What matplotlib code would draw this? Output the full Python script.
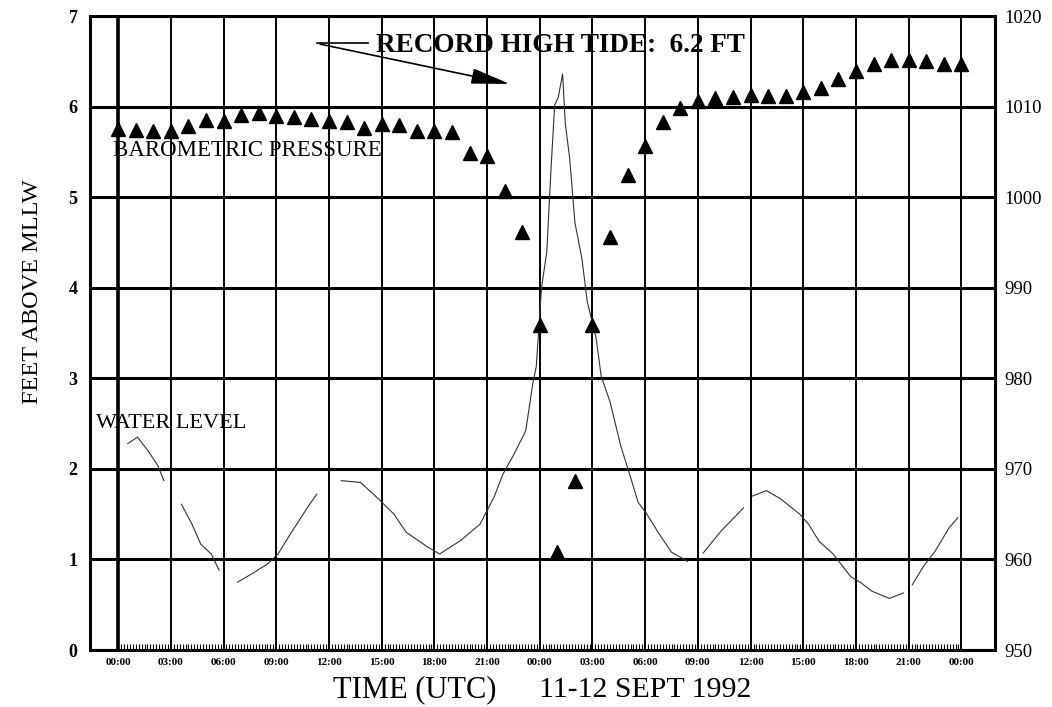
import matplotlib.pyplot as plt
import numpy as np

plt.rcParams['font.family'] = ['Liberation Serif', 'DejaVu Serif']

nan = np.nan

# hourly barometric pressure (mb), 00 UTC 11 Sept -> 00 UTC 13 Sept
pressure_hours = list(range(49))
pressure_mb = [1007.5, 1007.4, 1007.3, 1007.3, 1007.9, 1008.5, 1008.4, 1009.1, 1009.3, 1009.0,
               1008.9, 1008.6, 1008.4, 1008.3, 1007.6, 1008.1, 1008.0, 1007.3, 1007.3, 1007.2,
               1004.9, 1004.5, 1000.7, 996.2, 985.9, 960.8, 968.7, 985.9, 995.6, 1002.5,
               1005.7, 1008.3, 1009.8, 1010.6, 1010.9, 1011.1, 1011.3, 1011.2, 1011.2, 1011.6,
               1012.1, 1013.1, 1013.9, 1014.7, 1015.2, 1015.2, 1015.0, 1014.7, 1014.7]

# water level (ft above MLLW), nan = gap in the record
water_hours = [0.55, 1.1, 1.7, 2.25, 2.6, 3.0,
               3.6, 4.2, 4.7, 5.3, 5.75, 6.2,
               6.8, 7.6, 8.5, 9.1, 9.8, 10.8, 11.3, 12.0,
               12.7, 13.8, 14.7, 15.7, 16.4, 17.6, 18.3, 19.5, 20.6, 21.4, 21.9, 22.5,
               23.2, 23.6, 23.8, 24.1, 24.4, 24.65, 24.85, 25.05, 25.3, 25.45, 25.7,
               26.0, 26.4, 26.7, 27.2, 27.5, 28.0, 28.6, 29.1, 29.6, 30.1, 30.8,
               31.5, 32.4, 32.9,
               33.3, 34.3, 34.9, 35.6, 35.9,
               36.1, 36.9, 37.7, 38.8, 39.3, 39.9, 40.7, 41.7, 42.3, 42.9, 43.9, 44.7, 45.0,
               45.2, 45.9, 46.5, 47.3, 47.8]
water_feet = [2.28, 2.35, 2.20, 2.04, 1.87, nan,
              1.61, 1.39, 1.17, 1.06, 0.88, nan,
              0.75, 0.84, 0.95, 1.06, 1.28, 1.58, 1.72, nan,
              1.87, 1.85, 1.69, 1.50, 1.30, 1.14, 1.06, 1.21, 1.39, 1.69, 1.94, 2.15,
              2.42, 2.94, 3.13, 4.00, 4.40, 5.35, 6.02, 6.10, 6.36, 5.82, 5.43,
              4.72, 4.32, 3.85, 3.45, 3.02, 2.74, 2.26, 1.95, 1.63, 1.50, 1.28,
              1.08, 0.98, nan,
              1.07, 1.31, 1.43, 1.57, nan,
              1.70, 1.76, 1.67, 1.50, 1.39, 1.20, 1.06, 0.81, 0.74, 0.65, 0.57, 0.63, nan,
              0.72, 0.94, 1.09, 1.35, 1.46]

xtick_hours = list(range(0, 49, 3))
xtick_labels = ['00:00', '03:00', '06:00', '09:00', '12:00', '15:00', '18:00', '21:00'] * 2 + ['00:00']
feet_ticks = list(range(0, 8))
mb_ticks = list(range(950, 1021, 10))

fig = plt.figure(figsize=(10.52, 7.07), dpi=100)
ax = fig.add_axes([0.0856, 0.0806, 0.860, 0.8967])

ax.plot(water_hours, water_feet, color='0.2', lw=0.8)

ax.set_xlim(-1.6, 49.9)
ax.set_ylim(0, 7)
ax.set_xticks(xtick_hours)
ax.set_xticklabels(xtick_labels, fontsize=8, fontweight='bold')
ax.set_yticks(feet_ticks)
ax.set_yticklabels([str(v) for v in feet_ticks], fontsize=13, fontweight='bold')
ax.set_xticks(np.arange(0, 48.01, 1 / 6), minor=True)
ax.tick_params(axis='x', which='major', length=0, pad=6)
ax.tick_params(axis='x', which='minor', direction='in', length=4, width=0.8)
ax.tick_params(axis='y', length=4, direction='in', pad=9)

ax.xaxis.grid(True, color='black', lw=1.4)
ax.yaxis.grid(True, color='black', lw=2.2)
ax.axvline(0, color='black', lw=2.6)
for s in ax.spines.values():
    s.set_linewidth(2.2)

ax2 = ax.twinx()
ax2.plot(pressure_hours, pressure_mb, linestyle='none', marker='^', color='black', markersize=10.5)
ax2.set_ylim(950, 1020)
ax2.set_yticks(mb_ticks)
ax2.set_yticklabels([str(v) for v in mb_ticks], fontsize=13.5)
ax2.tick_params(axis='y', length=0, pad=7)

# annotations
ax.text(-0.28, 5.52, 'BAROMETRIC PRESSURE', fontsize=16.5, va='center', ha='left')
ax.text(-1.25, 2.50, 'WATER LEVEL', fontsize=16, va='center', ha='left')
ax.text(14.7, 6.67, 'RECORD HIGH TIDE:  6.2 FT', fontsize=19.5, fontweight='bold',
        va='center', ha='left')
ax.plot([11.3, 14.2], [6.70, 6.70], color='black', lw=1.2)
ax.annotate('', xy=(22.3, 6.25), xytext=(11.5, 6.69),
            arrowprops=dict(arrowstyle='-|>,head_length=1.5,head_width=0.3',
                            mutation_scale=16, color='black', lw=1.2, shrinkA=0, shrinkB=0))

fig.text(0.031, 0.587, 'FEET ABOVE MLLW', rotation=90, fontsize=17.5, ha='center', va='center')
fig.text(333 / 1052, 0.014, 'TIME (UTC)', fontsize=22, ha='left', va='baseline')
fig.text(539 / 1052, 0.014, '11-12 SEPT 1992', fontsize=21.5, ha='left', va='baseline')

plt.savefig('out.png', dpi=100)
